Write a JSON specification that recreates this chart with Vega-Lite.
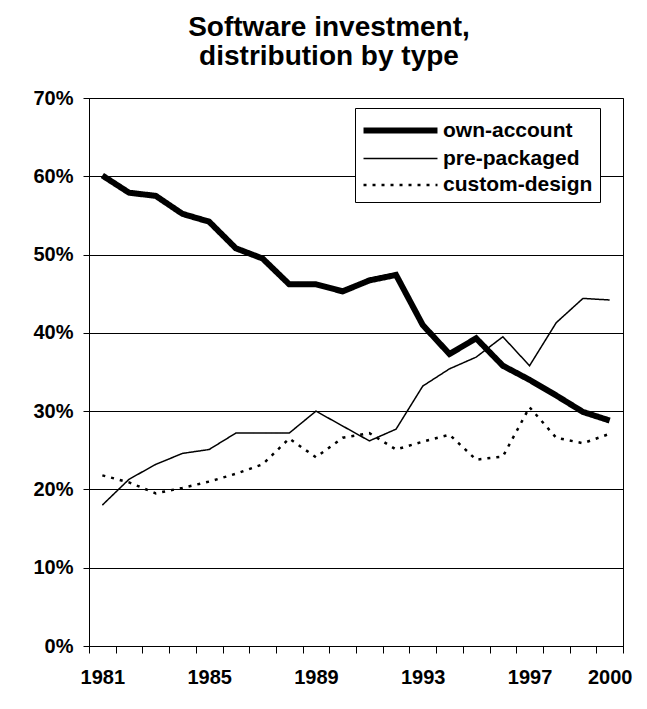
{
  "$schema": "https://vega.github.io/schema/vega-lite/v6.json",
  "autosize": "none",
  "padding": {"left": 89, "top": 98, "right": 24, "bottom": 63},
  "width": 534,
  "height": 548,
  "background": "white",
  "title": {
    "text": ["Software investment,", "distribution by type"],
    "font": "Liberation Sans",
    "fontSize": 28,
    "fontWeight": "bold",
    "lineHeight": 29,
    "color": "black",
    "anchor": "middle",
    "dx": -27,
    "offset": 17
  },
  "data": {
    "values": [
      {"year": 1981, "type": "own-account", "share": 0.601},
      {"year": 1982, "type": "own-account", "share": 0.579},
      {"year": 1983, "type": "own-account", "share": 0.575},
      {"year": 1984, "type": "own-account", "share": 0.552},
      {"year": 1985, "type": "own-account", "share": 0.542},
      {"year": 1986, "type": "own-account", "share": 0.508},
      {"year": 1987, "type": "own-account", "share": 0.495},
      {"year": 1988, "type": "own-account", "share": 0.462},
      {"year": 1989, "type": "own-account", "share": 0.462},
      {"year": 1990, "type": "own-account", "share": 0.453},
      {"year": 1991, "type": "own-account", "share": 0.467},
      {"year": 1992, "type": "own-account", "share": 0.474},
      {"year": 1993, "type": "own-account", "share": 0.41},
      {"year": 1994, "type": "own-account", "share": 0.373},
      {"year": 1995, "type": "own-account", "share": 0.393},
      {"year": 1996, "type": "own-account", "share": 0.358},
      {"year": 1997, "type": "own-account", "share": 0.34},
      {"year": 1998, "type": "own-account", "share": 0.32},
      {"year": 1999, "type": "own-account", "share": 0.299},
      {"year": 2000, "type": "own-account", "share": 0.288},
      {"year": 1981, "type": "pre-packaged", "share": 0.18},
      {"year": 1982, "type": "pre-packaged", "share": 0.213},
      {"year": 1983, "type": "pre-packaged", "share": 0.232},
      {"year": 1984, "type": "pre-packaged", "share": 0.246},
      {"year": 1985, "type": "pre-packaged", "share": 0.251},
      {"year": 1986, "type": "pre-packaged", "share": 0.272},
      {"year": 1987, "type": "pre-packaged", "share": 0.272},
      {"year": 1988, "type": "pre-packaged", "share": 0.272},
      {"year": 1989, "type": "pre-packaged", "share": 0.3},
      {"year": 1990, "type": "pre-packaged", "share": 0.281},
      {"year": 1991, "type": "pre-packaged", "share": 0.262},
      {"year": 1992, "type": "pre-packaged", "share": 0.277},
      {"year": 1993, "type": "pre-packaged", "share": 0.332},
      {"year": 1994, "type": "pre-packaged", "share": 0.354},
      {"year": 1995, "type": "pre-packaged", "share": 0.369},
      {"year": 1996, "type": "pre-packaged", "share": 0.395},
      {"year": 1997, "type": "pre-packaged", "share": 0.358},
      {"year": 1998, "type": "pre-packaged", "share": 0.413},
      {"year": 1999, "type": "pre-packaged", "share": 0.444},
      {"year": 2000, "type": "pre-packaged", "share": 0.442},
      {"year": 1981, "type": "custom-design", "share": 0.218},
      {"year": 1982, "type": "custom-design", "share": 0.209},
      {"year": 1983, "type": "custom-design", "share": 0.195},
      {"year": 1984, "type": "custom-design", "share": 0.202},
      {"year": 1985, "type": "custom-design", "share": 0.21},
      {"year": 1986, "type": "custom-design", "share": 0.22},
      {"year": 1987, "type": "custom-design", "share": 0.232},
      {"year": 1988, "type": "custom-design", "share": 0.265},
      {"year": 1989, "type": "custom-design", "share": 0.241},
      {"year": 1990, "type": "custom-design", "share": 0.266},
      {"year": 1991, "type": "custom-design", "share": 0.272},
      {"year": 1992, "type": "custom-design", "share": 0.251},
      {"year": 1993, "type": "custom-design", "share": 0.261},
      {"year": 1994, "type": "custom-design", "share": 0.27},
      {"year": 1995, "type": "custom-design", "share": 0.238},
      {"year": 1996, "type": "custom-design", "share": 0.242},
      {"year": 1997, "type": "custom-design", "share": 0.305},
      {"year": 1998, "type": "custom-design", "share": 0.266},
      {"year": 1999, "type": "custom-design", "share": 0.259},
      {"year": 2000, "type": "custom-design", "share": 0.271}
    ]
  },
  "mark": {"type": "line", "color": "black", "strokeJoin": "miter", "strokeCap": "butt"},
  "encoding": {
    "x": {
      "field": "year",
      "type": "ordinal",
      "scale": {"type": "band", "paddingInner": 0, "paddingOuter": 0},
      "axis": {
        "title": null,
        "labelAngle": 0,
        "tickBand": "extent",
        "labelExpr": "(datum.value - 1981) % 4 == 0 || datum.value == 2000 ? datum.label : ''",
        "labelOverlap": false,
        "labelFont": "Liberation Sans",
        "labelFontSize": 20,
        "labelFontWeight": "bold",
        "labelColor": "black",
        "labelPadding": 14,
        "tickSize": 7,
        "tickColor": "black",
        "domainColor": "black",
        "grid": false
      }
    },
    "y": {
      "field": "share",
      "type": "quantitative",
      "scale": {"domain": [0, 0.7], "nice": false},
      "axis": {
        "title": null,
        "values": [0, 0.1, 0.2, 0.3, 0.4, 0.5, 0.6, 0.7],
        "format": ".0%",
        "labelFont": "Liberation Sans",
        "labelFontSize": 20,
        "labelFontWeight": "bold",
        "labelColor": "black",
        "labelPadding": 10,
        "tickSize": 6,
        "tickColor": "black",
        "domainColor": "black",
        "gridColor": "black",
        "gridOpacity": 1
      }
    },
    "strokeWidth": {
      "field": "type",
      "type": "nominal",
      "scale": {"type": "ordinal", "domain": ["own-account", "pre-packaged", "custom-design"], "range": [6, 1.5, 2.5]},
      "legend": {
        "title": null,
        "orient": "none",
        "legendX": 266,
        "legendY": 10,
        "symbolType": "M-3,0H3",
        "symbolSize": 608,
        "symbolOffset": 23,
        "symbolStrokeColor": "black",
        "labelFont": "Liberation Sans",
        "labelFontSize": 21,
        "labelFontWeight": "bold",
        "labelColor": "black",
        "labelOffset": 27,
        "rowPadding": 2,
        "padding": 7,
        "fillColor": "white",
        "strokeColor": "black"
      }
    },
    "strokeDash": {
      "field": "type",
      "type": "nominal",
      "scale": {"domain": ["own-account", "pre-packaged", "custom-design"], "range": [[1, 0], [1, 0], [3, 6]]},
      "legend": {
        "title": null,
        "orient": "none",
        "legendX": 266,
        "legendY": 10,
        "symbolType": "M-3,0H3",
        "symbolSize": 608,
        "symbolOffset": 23,
        "symbolStrokeColor": "black",
        "labelFont": "Liberation Sans",
        "labelFontSize": 21,
        "labelFontWeight": "bold",
        "labelColor": "black",
        "labelOffset": 27,
        "rowPadding": 2,
        "padding": 7,
        "fillColor": "white",
        "strokeColor": "black"
      }
    }
  },
  "config": {
    "view": {"stroke": "black", "strokeWidth": 1}
  }
}
